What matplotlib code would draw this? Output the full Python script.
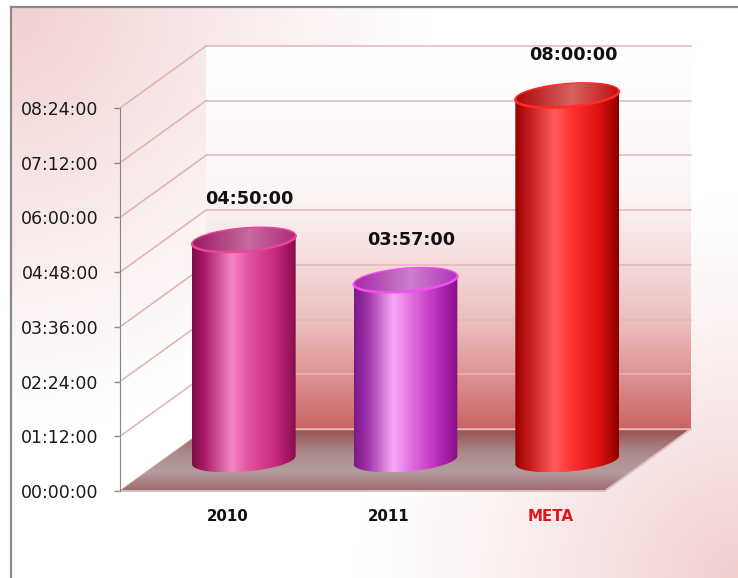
import numpy as np
import matplotlib
matplotlib.use("Agg")
import matplotlib.pyplot as plt
from matplotlib.colors import LinearSegmentedColormap, to_rgb
from matplotlib.patches import Polygon
from matplotlib.lines import Line2D

# data
categories = ["2010", "2011", "META"]
values = ["04:50:00", "03:57:00", "08:00:00"]
tick_hours = [0, 1.2, 2.4, 3.6, 4.8, 6.0, 7.2, 8.4]
label_colors = ["#111111", "#111111", "#e3161c"]

# cylinder shading, left -> right across the body
body_pos = [0, 0.12, 0.38, 0.55, 0.82, 1.0]
body_colors = [
    ["#7e0d47", "#a81c66", "#f286c4", "#e3529f", "#c4267b", "#860d4c"],
    ["#7a1a88", "#9c30aa", "#f8a8f4", "#e070e0", "#b828b8", "#861088"],
    ["#960000", "#c01818", "#ff5c5c", "#ff3030", "#dc1010", "#8a0000"],
]
cap_colors = [
    ["#9c1a60", "#c66c9e", "#b02a78"],
    ["#a82aa8", "#cc80cc", "#b232b8"],
    ["#ac0606", "#d86262", "#c01010"],
]
rim_colors = ["#ea449c", "#f050f0", "#ff2a2a"]

# layout in pixels
W, H = 738, 578
FRONT_L, FRONT_R = 120, 605
FLOOR_Y, TOP_Y = 491, 108
DEPTH_PX = (86, 62)
YMAX = tick_hours[-1]

ppc = (FRONT_R - FRONT_L) / len(categories)
pph = (FLOOR_Y - TOP_Y) / YMAX
x0 = -0.5 - FRONT_L / ppc
x1 = x0 + W / ppc
y0 = -(H - FLOOR_Y) / pph
y1 = y0 + H / pph
DX = DEPTH_PX[0] / ppc
DY = DEPTH_PX[1] / pph
R = 48.9 / ppc      # cylinder radius (category units)
S = 0.2             # cylinder radius (fraction of depth)


def to_hours(s):
    h, m, sec = (int(p) for p in s.split(":"))
    return h + m / 60 + sec / 3600


def fmt(h):
    mins = int(round(h * 60))
    return f"{mins // 60:02d}:{mins % 60:02d}:00"


def proj(x, y, d):
    return x + d * DX, y + d * DY


def cmap_of(colors, pos=None):
    if pos is None:
        pos = np.linspace(0, 1, len(colors))
    return LinearSegmentedColormap.from_list("c", list(zip(pos, colors)))


def fill_gradient(ax, pts, img, zorder):
    pts = np.asarray(pts, dtype=float)
    extent = (pts[:, 0].min(), pts[:, 0].max(), pts[:, 1].min(), pts[:, 1].max())
    clip = Polygon(pts, closed=True, transform=ax.transData)
    im = ax.imshow(img, extent=extent, origin="lower", aspect="auto",
                   interpolation="bilinear", zorder=zorder)
    im.set_clip_path(clip)
    return im


hours = [to_hours(v) for v in values]

fig = plt.figure(figsize=(W / 100, H / 100), dpi=100)
ax = fig.add_axes([0, 0, 1, 1])
ax.set_facecolor("none")

# background
gy, gx = np.mgrid[0:H, 0:W]
a = (np.clip(1 - np.hypot(gx, gy) / 430, 0, 1) ** 1.1
     + np.clip(1 - np.hypot(W - gx, H - gy) / 380, 0, 1) ** 1.2)
a = np.clip(a, 0, 1)
pink = np.array(to_rgb("#f1cfcf"))
bg = 1 - a[..., None] * (1 - pink)
bg[:7, :] = 1
bg[:, :11] = 1
ax.imshow(bg, extent=(x0, x1, y0, y1), origin="upper", aspect="auto", zorder=-10)
fig.add_artist(Line2D([11 / W, 11 / W], [0, 1 - 7 / H], transform=fig.transFigure,
                      color="#8a8a8a", lw=1.6))
fig.add_artist(Line2D([11 / W, 1], [1 - 7 / H, 1 - 7 / H], transform=fig.transFigure,
                      color="#8a8a8a", lw=1.6))

xl, xr = -0.5, len(categories) - 0.5

# back wall
wall = [proj(xl, 0, 1), proj(xr, 0, 1), proj(xr, YMAX, 1), proj(xl, YMAX, 1)]
wall_cmap = cmap_of(["#ca6464", "#dc9090", "#ebbcbc", "#f6dede", "#fdf6f6", "#ffffff"],
                    [0, 0.13, 0.27, 0.45, 0.62, 1.0])
wimg = wall_cmap(np.linspace(0, 1, 256))[:, None, :3]
fill_gradient(ax, wall, wimg, 1)

# gridlines on back wall and left wall
for t in tick_hours:
    bx0, by = proj(xl, t, 1)
    bx1, _ = proj(xr, t, 1)
    ax.plot([bx0, bx1], [by, by], color="#e4b6b6", lw=1.1, zorder=2)
    fx, fy = proj(xl, t, 0)
    ax.plot([fx, bx0], [fy, by], color="#dfb2b2", lw=1.1, zorder=2)

# floor
floor = [proj(xl, 0, 0), proj(xr, 0, 0), proj(xr, 0, 1), proj(xl, 0, 1)]
floor_cmap = cmap_of(["#9e6a6a", "#b59c9c", "#ad8a8a", "#965252"], [0, 0.3, 0.62, 1.0])
fimg = floor_cmap(np.linspace(0, 1, 128))[:, None, :3]
fill_gradient(ax, floor, fimg, 3)
ax.plot([floor[3][0], floor[2][0]], [floor[3][1], floor[2][1]], color="#efbcbc", lw=1, zorder=3)
ax.plot([floor[0][0], floor[1][0], floor[2][0]], [floor[0][1], floor[1][1], floor[2][1]],
        color="#d6c2c2", lw=1.4, zorder=3)

# cylinders
th0 = np.arctan2(S * DX, R)


def ring(cx, y, th):
    d = 0.5 + S * np.sin(th)
    return cx + R * np.cos(th) + d * DX, y + d * DY


for i, h in enumerate(hours):
    bot = np.linspace(th0, th0 - np.pi, 80)
    top = np.linspace(th0 - np.pi, th0, 80)
    bx, by = ring(i, 0, bot)
    tx, ty = ring(i, h, top)
    body = np.column_stack([np.r_[bx, tx], np.r_[by, ty]])
    bimg = cmap_of(body_colors[i], body_pos)(np.linspace(0, 1, 256))[None, :, :3]
    fill_gradient(ax, body, bimg, 4 + i)

    full = np.linspace(0, 2 * np.pi, 160)
    cx_, cy_ = ring(i, h, full)
    cap = np.column_stack([cx_, cy_])
    cimg = cmap_of(cap_colors[i], [0, 0.55, 1])(np.linspace(0, 1, 128))[None, :, :3]
    fill_gradient(ax, cap, cimg, 4.5 + i)
    ax.plot(cx_, cy_, color=rim_colors[i], lw=1.0, zorder=4.6 + i)
    fx_, fy_ = ring(i, h, np.linspace(th0, th0 - np.pi, 80))
    ax.plot(fx_, fy_, color=rim_colors[i], lw=1.8, zorder=4.6 + i, solid_capstyle="round")

    mx, my = proj(i, h, 0.5)
    ax.annotate(values[i], xy=(mx, my), xytext=(4.3, 29), textcoords="offset points",
                ha="center", va="center", fontsize=12.7, fontweight="bold",
                color="#111111", zorder=20)
    lx, ly = proj(i, 0, 0.31)
    ax.text(lx, -0.55, categories[i], ha="center", va="center", fontsize=10.8,
            fontweight="bold", color=label_colors[i], zorder=20)

# axis
ax.set_xlim(x0, x1)
ax.set_ylim(y0, y1)
ax.set_xticks([])
ax.set_yticks(tick_hours)
ax.set_yticklabels([fmt(t) for t in tick_hours])
for side in ("top", "right", "bottom"):
    ax.spines[side].set_visible(False)
ax.spines["left"].set_position(("data", xl))
ax.spines["left"].set_bounds(0, YMAX)
ax.spines["left"].set_color("#868686")
ax.spines["left"].set_zorder(15)
ax.tick_params(axis="y", direction="out", length=4.3, width=1, color="#868686",
               pad=11, labelsize=12.5, labelcolor="#1a1a1a")

fig.savefig("out.png", dpi=100)
